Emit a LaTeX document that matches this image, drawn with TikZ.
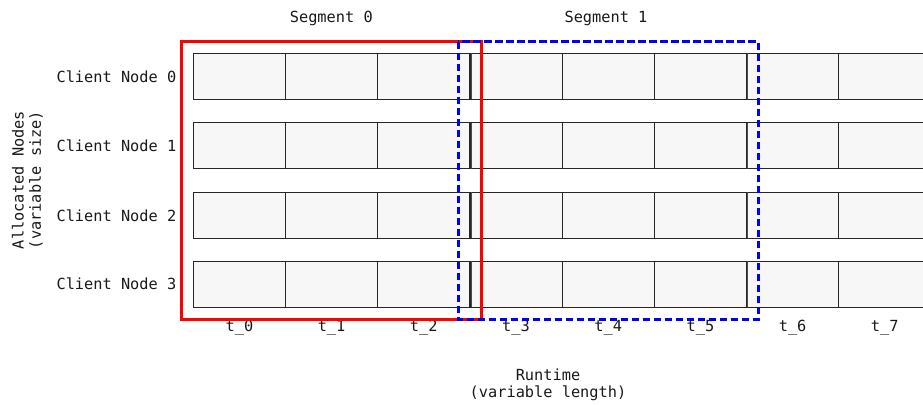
\documentclass[tikz,border=0pt]{standalone}
\usepackage{fontspec}
\setmainfont{DejaVu Sans Mono}
\begin{document}
\begin{tikzpicture}[x=1pt,y=-1pt,
  cell/.style={draw=black!85, fill=black!3, line width=1.2pt, minimum width=92.2pt, minimum height=46pt, inner sep=0pt, outer sep=0pt},
  cellline/.style={draw=black!70, line width=1.2pt},
  lbl/.style={font=\fontsize{15.3}{18}\selectfont, text=black!90, inner sep=0pt},
  segred/.style={draw=red, line width=3pt},
  segblue/.style={draw=blue, line width=3pt, dash pattern=on 7.5pt off 3.5pt}]
\useasboundingbox (0,0) rectangle (923,404);
\clip (0,0) rectangle (923,404);
\foreach \r/\yc in {0/76.3,1/145.8,2/215.3,3/284.2} {
  \foreach \i in {0,...,7} {
    \node[cell] (c\r\i) at ({193.3+92.2*\i+46.1}, \yc) {};
  }
  \draw[cellline] ([xshift=1.2pt]c\r3.north west) -- ([xshift=1.2pt]c\r3.south west);
  \draw[cellline] ([xshift=1.2pt]c\r6.north west) -- ([xshift=1.2pt]c\r6.south west);
  \node[lbl, anchor=east] (cn\r) at (176.5,\yc) {Client Node \r};
}
\foreach \i in {0,...,7} {
  \node[lbl] (t\i) at ({193.3+92.2*\i+46.1}, 328) {t\_\i};
}
\coordinate (r1) at (181.7,41.7);
\coordinate (r2) at (481,319.5);
\coordinate (b1) at (458.3,41.7);
\coordinate (b2) at (758.3,319.5);
\draw[segred] (r1) rectangle (r2);
\draw[segblue] (b1) rectangle (b2);
\node[lbl] (seg0) at (331.3,18) {Segment 0};
\node[lbl] (seg1) at (606,18) {Segment 1};
\node[lbl] (rt1) at (548,375) {Runtime};
\node[lbl] (rt2) at (548,393) {(variable length)};
\node[lbl, rotate=90] (ax1) at (18,180) {Allocated Nodes};
\node[lbl, rotate=90] (ax2) at (36,180) {(variable size)};
\end{tikzpicture}
\end{document}
